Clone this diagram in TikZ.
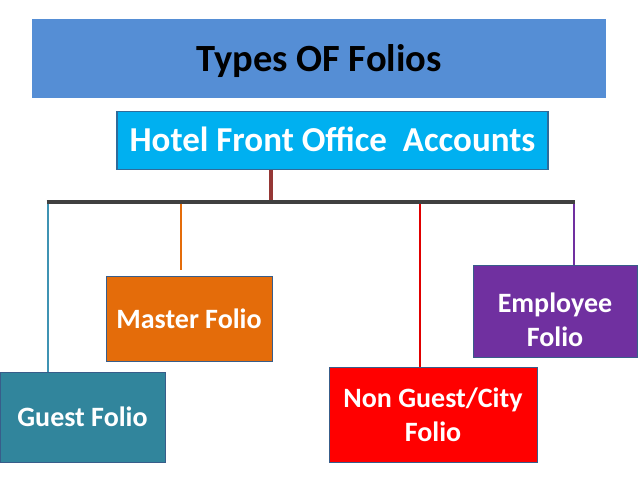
\documentclass[tikz,border=0pt]{standalone}
\usepackage{fontspec}
\setmainfont{Carlito}
\definecolor{bandblue}{HTML}{558ED5}
\definecolor{cyanbox}{HTML}{00B0F0}
\definecolor{hotelline}{HTML}{2F6B9A}
\definecolor{boxline}{HTML}{385D8A}
\definecolor{tealbox}{HTML}{31859C}
\definecolor{tealline}{HTML}{3F93B3}
\definecolor{orangebox}{HTML}{E46C0A}
\definecolor{redbox}{HTML}{FF0000}
\definecolor{redline}{HTML}{E00000}
\definecolor{purplebox}{HTML}{7030A0}
\definecolor{trunkcol}{HTML}{953735}
\definecolor{barcol}{HTML}{404040}
\tikzset{
  folio/.style={draw=boxline, line width=1pt, text=white, font=\bfseries\fontsize{28}{34}\selectfont, align=center, inner sep=0pt, rectangle},
  drop/.style={line width=2.6pt},
}
\begin{document}
\begin{tikzpicture}[x=1pt,y=-1pt]
\useasboundingbox[fill=white] (0,0) rectangle (638,479);
% title band
\node[fill=bandblue, minimum width=574pt, minimum height=79pt, inner sep=0pt,
      text height=26.4pt, text depth=0pt,
      font=\bfseries\fontsize{38.5}{44}\selectfont, text=black] (title) at (319,58.5) {Types OF Folios};
% root
\node[fill=cyanbox, draw=hotelline, line width=1.5pt, minimum width=431pt, minimum height=58pt, inner sep=0pt,
      text height=22.4pt, text depth=0pt,
      font=\bfseries\fontsize{35}{40}\selectfont, text=white] (hotel) at (332.5,140.5) {Hotel Front Office\ \ Accounts};
% leaves
\node[folio, fill=tealbox, minimum width=165pt, minimum height=90pt] (guest) at (82.5,417) {Guest Folio};
\node[folio, fill=orangebox, minimum width=166pt, minimum height=85pt] (master) at (189,318.5) {Master Folio};
\node[folio, fill=redbox, minimum width=208pt, minimum height=95pt] (nonguest) at (433,414.5) {Non Guest/City\\Folio};
\node[folio, fill=purplebox, minimum width=164pt, minimum height=92pt] (employee) at (555,311) {\rule{0pt}{38pt}Employee\\Folio};
% bus coordinates
\coordinate (bus) at (271,202);
\coordinate (busL) at (48,202);
\coordinate (busM) at (181,202);
\coordinate (busN) at (420,202);
\coordinate (busR) at (574,202);
% connectors
\draw[drop, draw=tealline] (busL) -- (busL |- guest.north);
\draw[drop, draw=orangebox, shorten >=6pt] (busM) -- (busM |- master.north);
\draw[drop, draw=redline] (busN) -- (busN |- nonguest.north);
\draw[drop, draw=purplebox] (busR) -- (busR |- employee.north);
\draw[line width=4.7pt, draw=trunkcol] (hotel.south -| bus) -- (bus);
\draw[line width=4pt, draw=barcol] ([xshift=-1.3pt]busL) -- ([xshift=1.3pt]busR);
\end{tikzpicture}
\end{document}
